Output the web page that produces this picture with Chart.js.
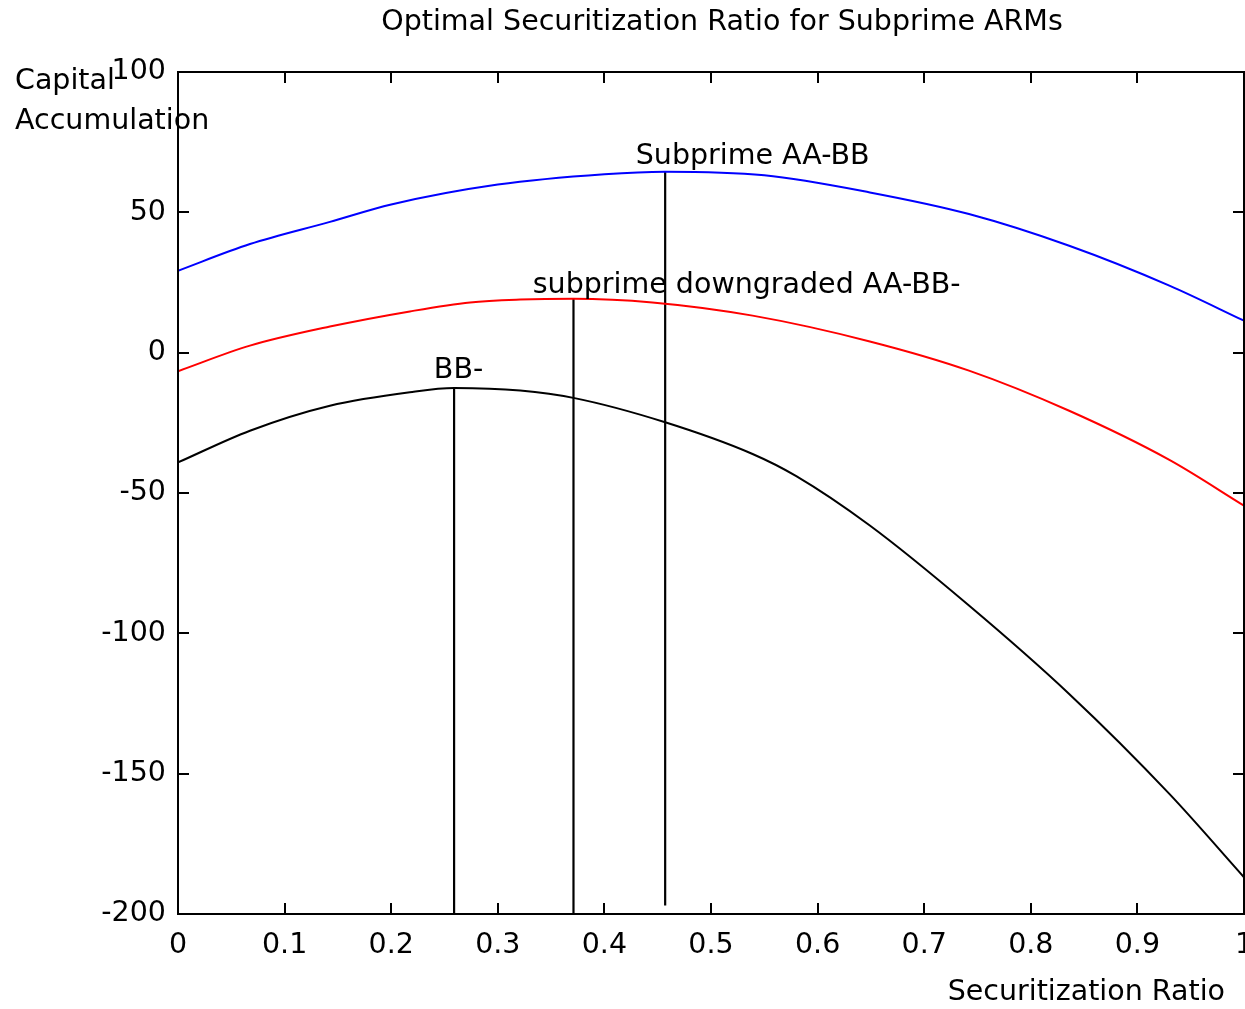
<!DOCTYPE html>
<html>
<head>
<meta charset="utf-8">
<script src="https://cdn.jsdelivr.net/npm/chart.js@4/dist/chart.umd.min.js"></script>
<style>
  html, body { margin: 0; padding: 0; background: #fff; }
  #wrap { width: 1245px; height: 1009px; position: relative; }
</style>
</head>
<body>
<div id="wrap"><canvas id="c" width="1245" height="1009"></canvas></div>
<script>
// ---- data ----
const titleText = 'Optimal Securitization Ratio for Subprime ARMs';
const xAxisTitle = 'Securitization Ratio';
const yAxisTitle = ['Capital', 'Accumulation'];

const xTicks = [0, 0.1, 0.2, 0.3, 0.4, 0.5, 0.6, 0.7, 0.8, 0.9, 1];
const xTickLabels = ['0', '0.1', '0.2', '0.3', '0.4', '0.5', '0.6', '0.7', '0.8', '0.9', '1'];
const yTicks = [-200, -150, -100, -50, 0, 50, 100];
const yTickLabels = ['-200', '-150', '-100', '-50', '0', '50', '100'];

// Subprime AA-BB (blue)
const blueX = [0, 0.0675, 0.1425, 0.2, 0.3, 0.4, 0.457, 0.55, 0.649, 0.742, 0.836, 0.93, 1.0];
const blueY = [29.2, 38.7, 46.6, 52.8, 59.9, 63.6, 64.5, 63.2, 57.1, 49.4, 38.1, 23.9, 11.4];

// subprime downgraded AA-BB- (red)
const redX = [0, 0.0675, 0.1425, 0.2175, 0.274, 0.321, 0.371, 0.445, 0.539, 0.649, 0.742, 0.836, 0.93, 1.0];
const redY = [-6.6, 2.5, 9.3, 14.7, 17.9, 18.9, 19.2, 17.9, 13.2, 4.0, -6.4, -20.7, -38.2, -54.5];

// BB- (black)
const blackX = [0, 0.0675, 0.1425, 0.2175, 0.259, 0.321, 0.372, 0.457, 0.539, 0.580, 0.649, 0.742, 0.836, 0.93, 1.0];
const blackY = [-39.1, -27.8, -18.9, -14.1, -12.6, -13.5, -16.2, -24.8, -36.1, -44.0, -61.6, -90.1, -121.6, -157.2, -186.9];

// optimum markers (vertical lines)
const optX = [0.259, 0.371, 0.457];
const optTop = [-12.6, 19.2, 64.5];
const optBottom = [-200, -200, -197];

// annotation texts
const noteText = ['BB-', 'subprime downgraded AA-BB-', 'Subprime AA-BB'];
const noteX = [0.24, 0.3328, 0.4294];
const noteY = [-6.3, 23.9, 69.8];

// ---- build ----
const FONT = '28.5px "DejaVu Sans"';
const pts = (xs, ys) => xs.map((x, i) => ({ x: x, y: ys[i] }));

const datasets = [
  { data: pts(blueX, blueY), borderColor: '#0000ff', borderWidth: 2, pointRadius: 0, cubicInterpolationMode: 'monotone' },
  { data: pts(redX, redY), borderColor: '#ff0000', borderWidth: 2, pointRadius: 0, cubicInterpolationMode: 'monotone' },
  { data: pts(blackX, blackY), borderColor: '#000000', borderWidth: 2, pointRadius: 0, cubicInterpolationMode: 'monotone' }
];
optX.forEach((x, i) => {
  datasets.push({ data: [{ x: x, y: optBottom[i] }, { x: x, y: optTop[i] }], borderColor: '#000000', borderWidth: 2.2, pointRadius: 0 });
});

const decor = {
  id: 'decor',
  afterDatasetsDraw(chart) {
    const ctx = chart.ctx, a = chart.chartArea;
    const xs = chart.scales.x, ys = chart.scales.y;
    ctx.save();
    ctx.strokeStyle = '#000';
    ctx.lineWidth = 2;
    ctx.strokeRect(a.left, a.top, a.right - a.left, a.bottom - a.top);
    const tl = 11;
    ctx.beginPath();
    xTicks.forEach(v => {
      const p = Math.round(xs.getPixelForValue(v));
      ctx.moveTo(p, a.bottom); ctx.lineTo(p, a.bottom - tl);
      ctx.moveTo(p, a.top); ctx.lineTo(p, a.top + tl);
    });
    yTicks.forEach(v => {
      const p = Math.round(ys.getPixelForValue(v));
      ctx.moveTo(a.left, p); ctx.lineTo(a.left + tl, p);
      ctx.moveTo(a.right, p); ctx.lineTo(a.right - tl, p);
    });
    ctx.stroke();

    ctx.fillStyle = '#000';
    ctx.font = FONT;
    ctx.textBaseline = 'middle';
    ctx.textAlign = 'left';
    noteText.forEach((t, i) => {
      ctx.fillText(t, xs.getPixelForValue(noteX[i]), ys.getPixelForValue(noteY[i]));
    });
    // title
    ctx.textAlign = 'center';
    ctx.fillText(titleText, 722, 23);
    // x axis title
    ctx.textAlign = 'right';
    ctx.fillText(xAxisTitle, 1225, 993);
    // y axis title
    ctx.textAlign = 'left';
    ctx.fillText(yAxisTitle[0], 15, 82);
    ctx.fillText(yAxisTitle[1], 15, 122);
    ctx.restore();
  }
};

const noPad = s => { s.paddingLeft = 0; s.paddingRight = 0; s.paddingTop = 0; s.paddingBottom = 0; };

new Chart(document.getElementById('c'), {
  type: 'line',
  data: { datasets: datasets },
  options: {
    responsive: false,
    animation: false,
    events: [],
    layout: { padding: { top: 72, right: 1, bottom: 0, left: 0 } },
    plugins: { legend: { display: false }, title: { display: false }, tooltip: { enabled: false } },
    scales: {
      x: {
        type: 'linear', min: 0, max: 1,
        grid: { display: false, drawTicks: false },
        border: { display: false },
        afterBuildTicks: s => { s.ticks = xTicks.map(v => ({ value: v })); },
        afterFit: s => { s.height = 95; noPad(s); },
        ticks: {
          autoSkip: false, maxRotation: 0, padding: 14, color: '#000',
          font: { family: 'DejaVu Sans', size: 28.5 },
          callback: (v, i) => xTickLabels[i]
        }
      },
      y: {
        type: 'linear', min: -200, max: 100,
        grid: { display: false, drawTicks: false },
        border: { display: false },
        afterBuildTicks: s => { s.ticks = yTicks.map(v => ({ value: v })); },
        afterFit: s => { s.width = 178; noPad(s); },
        ticks: {
          autoSkip: false, padding: 12, color: '#000',
          font: { family: 'DejaVu Sans', size: 28.5 },
          callback: (v, i) => yTickLabels[i]
        }
      }
    }
  },
  plugins: [decor]
});
</script>
</body>
</html>
